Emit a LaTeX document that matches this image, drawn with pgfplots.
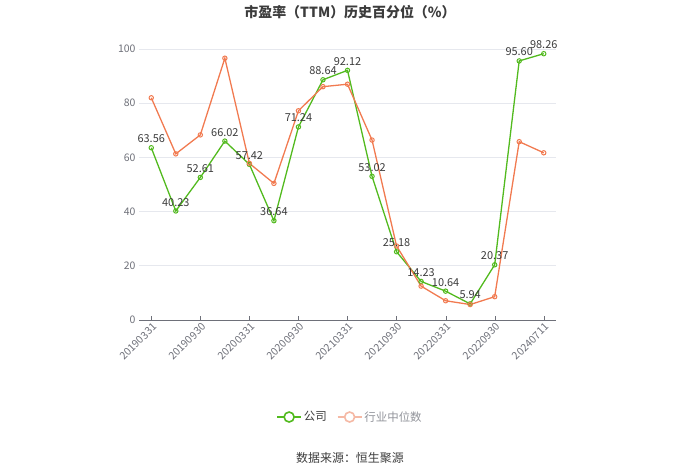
\documentclass[border=0pt]{standalone}
\usepackage{pgfplots}
\pgfplotsset{compat=1.18}
\usepackage{fontspec}
\setmainfont{Noto Sans CJK SC}
\definecolor{cgreen}{RGB}{82,186,30}
\definecolor{corange}{RGB}{241,122,80}
\definecolor{corangel}{RGB}{245,185,165}
\definecolor{tickgrey}{RGB}{110,112,121}
\definecolor{gridgrey}{RGB}{230,232,238}
\definecolor{labgrey}{RGB}{60,60,60}
\begin{document}
\begin{tikzpicture}[x=1bp,y=1bp]
\path[use as bounding box] (0,0) rectangle (700,474);
\begin{axis}[
  at={(139bp,154bp)}, anchor=south west,
  scale only axis, width=417bp, height=271bp,
  xmin=-0.5, xmax=16.5, ymin=0, ymax=100,
  clip=false,
  axis line style={draw=none},
  ytick={0,20,40,60,80,100},
  ymajorgrids, grid style={gridgrey, line width=0.8pt},
  xtick={0,2,4,6,8,10,12,14,16},
  xticklabels={20190331,20190930,20200331,20200930,20210331,20210930,20220331,20220930,20240711},
  xticklabel style={rotate=45, anchor=north east, font=\fontsize{10.5}{12}\selectfont, text=tickgrey, inner sep=1pt},
  yticklabel style={font=\fontsize{10.5}{12}\selectfont, text=tickgrey},
  /pgf/number format/assume math mode=true,
  tick style={draw=tickgrey},
  major tick length=4bp,
  xtick pos=bottom, ytick style={draw=none},
  x tick label style={yshift=-1bp},
  legend style={at={(0.506,-0.358)}, anchor=center, draw=none, legend columns=2, font=\fontsize{11.5}{13}\selectfont, /tikz/every even column/.append style={column sep=8bp}},
  legend cell align=left,
]
\draw[tickgrey, line width=0.8pt] (axis cs:-0.5,0) -- (axis cs:16.5,0);
\addplot[forget plot, cgreen, line width=1.3pt, mark=o, mark size=2.2pt, mark options={fill=white, line width=1pt},
  nodes near coords, point meta=explicit symbolic,
  every node near coord/.append style={font=\fontsize{11}{13}\selectfont, text=labgrey, anchor=south, yshift=1bp}]
coordinates {
(0,63.56) [63.56]
(1,40.23) [40.23]
(2,52.61) [52.61]
(3,66.02) [66.02]
(4,57.42) [57.42]
(5,36.64) [36.64]
(6,71.24) [71.24]
(7,88.64) [88.64]
(8,92.12) [92.12]
(9,53.02) [53.02]
(10,25.18) [25.18]
(11,14.23) [14.23]
(12,10.64) [10.64]
(13,5.94) [5.94]
(14,20.37) [20.37]
(15,95.60) [95.60]
(16,98.26) [98.26]
};
\addplot[forget plot, corange, line width=1.3pt, mark=o, mark size=2.2pt, mark options={fill=white, line width=1pt}]
coordinates {
(0,82.0) (1,61.3) (2,68.3) (3,96.6) (4,57.8) (5,50.4) (6,77.2) (7,86.1) (8,87.0) (9,66.4)
(10,27.3) (11,12.5) (12,7.1) (13,5.7) (14,8.6) (15,65.8) (16,61.7)
};
\addlegendimage{legend image code/.code={\draw[cgreen, line width=1.6pt] (0bp,0bp)--(24bp,0bp); \draw[cgreen, line width=1.6pt, fill=white] (12bp,0bp) circle (5bp);}}
\addlegendentry{\textcolor{labgrey}{公司}}
\addlegendimage{legend image code/.code={\draw[corangel, line width=1.6pt] (0bp,0bp)--(24bp,0bp); \draw[corangel, line width=1.6pt, fill=white] (12bp,0bp) circle (5bp);}}
\addlegendentry{\textcolor{tickgrey!75}{行业中位数}}
\end{axis}
\node[font=\fontsize{14}{16}\selectfont\bfseries, text=labgrey] at (350,462) {市盈率（TTM）历史百分位（\%）};
\node[font=\fontsize{12}{14}\selectfont, text=labgrey] at (350,16) {数据来源：恒生聚源};
\end{tikzpicture}
\end{document}
